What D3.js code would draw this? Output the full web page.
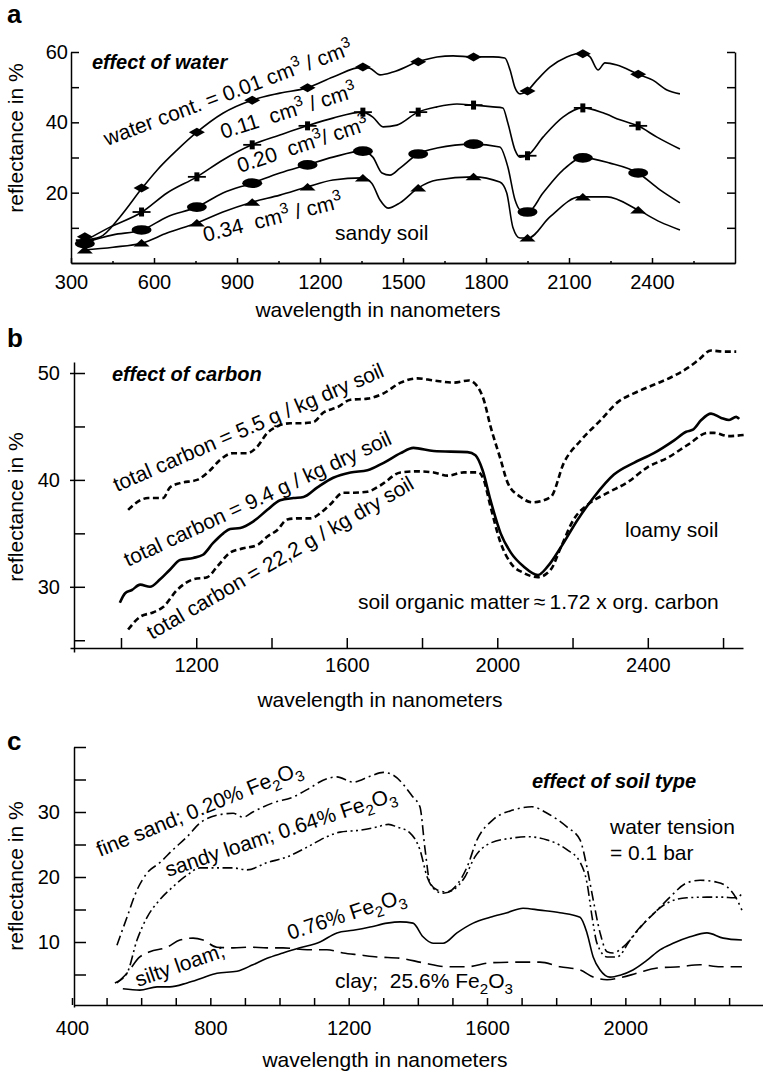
<!DOCTYPE html>
<html lang="en">
<head>
<meta charset="UTF-8">
<title>Soil reflectance spectra</title>
<script src="https://d3js.org/d3.v7.min.js"></script>
<style>
  body { margin: 0; background: #fff; }
  svg { display: block; font-family: "Liberation Sans", Arial, Helvetica, sans-serif; }
  .axis path, .axis line { stroke: #000; stroke-width: 1.5; }
  .axis text { font-size: 20px; fill: #000; font-family: "Liberation Sans", Arial, Helvetica, sans-serif; }
  .curve { fill: none; stroke: #000; stroke-linejoin: round; }
  text { white-space: pre; }
</style>
</head>
<body>
<svg id="chart" width="763" height="1076"></svg>
<script>
// ---- panel a: effect of water (wavelength nm, reflectance %) ----
const water001 = [[343,6.5],[405,7.4],[477,13.1],[557,21.3],[611,26.4],[683,32.1],[755,37.2],[849,42.6],[954,46.3],[1055,48.3],[1153,49.8],[1247,52.9],[1353,55.7],[1380,55.4],[1417,53.5],[1464,54.3],[1554,57.2],[1623,58.6],[1681,58.9],[1753,58.6],[1825,58.6],[1868,58.3],[1887,54.9],[1905,49.8],[1923,48.1],[1948,48.9],[1984,52.0],[2031,55.7],[2092,58.6],[2147,59.7],[2176,58.6],[2205,54.9],[2230,56.9],[2273,56.3],[2349,53.7],[2403,52.0],[2454,49.2],[2501,48.1]];
const water011 = [[343,6.0],[441,10.2],[557,14.5],[647,19.9],[755,24.5],[849,29.3],[954,33.6],[1055,36.4],[1153,39.0],[1247,41.2],[1353,42.9],[1391,41.5],[1428,38.7],[1478,39.2],[1554,42.9],[1623,44.4],[1695,45.2],[1753,44.9],[1825,44.4],[1861,44.1],[1879,39.8],[1905,32.1],[1923,30.1],[1952,30.7],[2006,35.8],[2078,41.5],[2150,44.1],[2223,42.7],[2284,40.7],[2349,39.0],[2418,35.8],[2501,32.4]];
const water020 = [[343,5.7],[452,8.0],[557,9.4],[647,13.1],[755,15.9],[849,19.9],[954,22.7],[1055,25.6],[1153,27.9],[1247,30.1],[1353,31.8],[1391,30.1],[1424,25.6],[1453,25.0],[1489,27.0],[1554,31.0],[1623,32.7],[1753,33.8],[1850,33.0],[1879,27.3],[1905,17.9],[1923,15.1],[1952,14.5],[2006,19.9],[2078,26.4],[2150,29.9],[2248,28.4],[2349,25.6],[2429,20.8],[2501,17.1]];
const water034 = [[343,3.7],[452,4.5],[557,5.7],[647,8.5],[755,11.4],[849,14.5],[954,17.3],[1055,19.3],[1153,21.6],[1247,23.6],[1353,24.2],[1387,22.7],[1417,17.9],[1446,15.6],[1489,17.1],[1554,21.3],[1623,23.6],[1753,24.5],[1850,23.0],[1875,19.9],[1897,10.2],[1923,7.1],[1952,7.1],[2031,13.1],[2139,18.8],[2237,18.8],[2349,15.1],[2429,11.7],[2501,9.4]];
const markerWl = [350,555,755,955,1155,1355,1555,1755,1950,2150,2350];
const markDiamond = [7.5,21.3,37.2,46.3,49.8,55.7,57.2,58.6,48.9,59.5,53.7];
const markCross = [6.5,14.5,24.5,33.6,39.0,42.9,42.9,44.9,30.5,44.1,39.0];
const markEllipse = [5.5,9.4,15.9,22.7,27.9,31.8,31.0,33.8,14.5,29.9,25.6];
const markTriangle = [3.7,5.7,11.4,17.3,21.6,24.2,21.3,24.5,7.1,18.8,15.1];
const ticksA = [300,600,900,1200,1500,1800,2100,2400];
const minorA = [450,750,1050,1350,1650,1950,2250,2550];

// ---- panel b: effect of carbon ----
const carbon55 = [[1019,37.2],[1051,38.1],[1072,38.3],[1112,38.3],[1130,39.3],[1157,39.7],[1202,40.0],[1237,40.9],[1264,41.9],[1298,42.5],[1335,42.5],[1362,43.1],[1389,44.4],[1415,45.0],[1450,45.3],[1477,45.3],[1511,45.4],[1538,46.3],[1575,46.8],[1610,47.5],[1655,47.6],[1698,48.1],[1743,49.1],[1788,49.5],[1831,49.3],[1884,49.1],[1924,49.3],[1948,48.7],[1964,47.5],[1982,45.0],[2009,41.9],[2028,39.7],[2062,38.4],[2094,37.9],[2142,38.4],[2177,41.6],[2222,43.7],[2275,45.6],[2321,47.3],[2363,48.1],[2416,48.9],[2462,49.6],[2507,50.5],[2534,51.2],[2568,52.1],[2603,52.0],[2635,52.0]];
const carbon94 = [[997,28.5],[1011,29.4],[1029,29.7],[1051,30.2],[1077,30.0],[1104,30.7],[1130,31.6],[1157,32.5],[1192,32.7],[1218,33.0],[1245,34.1],[1272,35.0],[1290,35.4],[1317,35.5],[1351,36.1],[1389,37.2],[1423,38.1],[1458,38.3],[1485,38.4],[1522,39.3],[1564,40.2],[1610,40.7],[1655,40.9],[1698,41.6],[1743,42.5],[1777,43.0],[1831,42.7],[1921,42.6],[1942,42.3],[1961,40.9],[1982,38.1],[2009,35.0],[2036,33.2],[2070,31.9],[2108,31.1],[2134,31.9],[2169,33.7],[2214,36.3],[2257,38.4],[2310,40.5],[2363,41.6],[2416,42.5],[2470,43.7],[2502,44.5],[2520,44.7],[2542,45.6],[2568,46.2],[2595,45.8],[2616,45.6],[2635,45.9],[2643,45.7]];
const carbon222 = [[1019,26.0],[1051,27.2],[1085,27.6],[1112,28.1],[1149,29.7],[1192,30.7],[1229,30.9],[1256,31.9],[1290,33.2],[1325,33.6],[1362,33.9],[1389,34.7],[1415,35.3],[1442,36.3],[1469,36.4],[1503,36.4],[1530,36.9],[1556,37.7],[1591,38.8],[1618,38.8],[1655,38.9],[1690,39.5],[1743,40.7],[1788,40.8],[1831,40.7],[1868,40.4],[1911,40.7],[1950,40.7],[1964,40.0],[1982,37.5],[2009,34.1],[2036,32.2],[2070,31.3],[2108,30.9],[2142,31.6],[2169,33.7],[2203,36.3],[2241,37.7],[2294,38.8],[2347,39.8],[2400,41.2],[2454,42.1],[2507,43.3],[2560,44.4],[2576,44.4],[2614,44.1],[2656,44.2]];
const ticksB = [1000,1200,1400,1600,1800,2000,2200,2400,2600];
const labelsB = [1200,1600,2000,2400];

// ---- panel c: effect of soil type ----
const fineSand = [[530,9.5],[559,13.8],[588,18.0],[617,20.6],[654,22.2],[692,24.2],[733,26.2],[770,28.3],[819,29.5],[866,29.8],[895,29.2],[923,30.0],[981,31.4],[1039,32.3],[1088,33.7],[1126,34.9],[1166,35.4],[1213,34.6],[1262,35.5],[1300,36.1],[1328,35.7],[1386,32.3],[1406,30.8],[1421,24.2],[1435,19.1],[1456,18.0],[1484,17.7],[1513,18.8],[1542,21.5],[1571,25.7],[1617,28.8],[1675,30.3],[1730,30.8],[1774,29.8],[1831,27.7],[1869,25.7],[1889,21.5],[1907,16.5],[1927,11.4],[1947,8.5],[1965,8.3],[1993,9.2],[2043,12.3],[2092,14.9],[2129,16.9],[2178,19.1],[2216,19.5],[2265,19.2],[2294,18.5],[2323,16.5],[2337,14.9]];
const sandyLoam = [[524,3.7],[559,5.2],[588,10.3],[617,13.8],[654,16.5],[692,18.5],[733,20.3],[770,21.4],[819,21.4],[866,21.4],[906,21.1],[964,22.2],[1022,23.1],[1080,24.6],[1137,26.2],[1175,26.9],[1233,27.2],[1282,27.7],[1315,28.1],[1340,27.7],[1377,26.8],[1406,24.2],[1427,20.0],[1444,18.3],[1473,17.5],[1502,18.0],[1536,20.0],[1565,23.1],[1609,25.2],[1675,26.0],[1716,26.2],[1774,25.7],[1831,24.2],[1869,22.3],[1889,19.1],[1904,13.8],[1918,9.8],[1947,7.7],[1976,7.7],[2014,10.3],[2063,13.4],[2121,16.0],[2178,16.8],[2236,16.9],[2283,16.9],[2312,16.8],[2326,16.9],[2337,17.5]];
const siltyLoam = [[547,2.8],[596,2.6],[646,3.1],[683,3.1],[733,3.7],[779,4.5],[819,5.2],[877,5.5],[923,6.5],[964,7.5],[1010,8.3],[1059,9.1],[1117,10.0],[1166,11.4],[1213,11.8],[1262,12.3],[1311,12.9],[1349,13.1],[1386,12.9],[1415,10.8],[1444,9.8],[1473,9.8],[1513,11.4],[1560,12.9],[1609,13.8],[1658,14.5],[1704,15.2],[1753,14.9],[1811,14.5],[1869,13.8],[1889,11.4],[1907,7.7],[1927,5.7],[1956,4.6],[1985,4.9],[2022,5.7],[2063,7.2],[2100,8.8],[2138,9.8],[2187,10.8],[2236,11.4],[2283,10.6],[2337,10.3]];
const clay = [[530,3.7],[559,5.2],[596,7.7],[625,8.5],[675,9.2],[712,10.3],[750,10.6],[779,10.3],[819,9.2],[866,9.1],[915,9.2],[964,9.1],[1010,9.1],[1080,8.8],[1137,8.8],[1184,8.3],[1233,8.0],[1282,7.7],[1349,7.5],[1415,6.8],[1484,6.2],[1542,6.2],[1609,6.8],[1675,6.9],[1753,6.9],[1811,6.2],[1869,5.7],[1907,4.6],[1947,4.2],[1985,4.5],[2034,5.2],[2092,6.0],[2158,6.2],[2216,6.5],[2274,6.2],[2337,6.2]];
const ticksC = [400,500,600,700,800,900,1000,1100,1200,1300,1400,1500,1600,1700,1800,1900,2000,2100,2200,2300];
const labelsC = [400,800,1200,1600,2000];

const svg = d3.select("#chart");
const FS = 21;

function curve(g, x, y, data, width, dash) {
    g.append("path")
        .datum(data)
        .attr("class", "curve")
        .attr("stroke-width", width)
        .attr("stroke-dasharray", dash || null)
        .attr("d", d3.line().x(d => x(d[0])).y(d => y(d[1])).curve(d3.curveMonotoneX));
}

// text with sub/superscripts: parts are strings or [text, "sup"|"sub"]
function rich(g, px, py, angle, parts, opts = {}) {
    const size = opts.size || FS;
    const t = g.append("text")
        .attr("transform", `translate(${px},${py}) rotate(${angle})`)
        .attr("font-size", size)
        .attr("font-weight", opts.weight || null)
        .attr("font-style", opts.style || null)
        .attr("text-anchor", opts.anchor || null);
    let cur = 0;
    parts.forEach(p => {
        const [s, kind] = typeof p === "string" ? [p, null] : p;
        const target = kind === "sup" ? -0.4 * size : kind === "sub" ? 0.28 * size : 0;
        const span = t.append("tspan").text(s).attr("dy", target - cur);
        if (kind) span.attr("font-size", size * 0.72);
        cur = target;
    });
    return t;
}

function yTitle(py) {
    rich(svg, 23, py, -90, ["reflectance in %"], {anchor: "middle"});
}

function tidy(g) {
    g.attr("font-family", null).attr("font-size", null);
}

// ================= panel a =================
const ga = svg.append("g");
const xa = d3.scaleLinear().domain([300, 2700]).range([71, 735]);
const ya = d3.scaleLinear().domain([0, 60]).range([263, 52]);

ga.append("g").attr("class", "axis").attr("transform", "translate(0,263)")
    .call(d3.axisBottom(xa).tickValues(ticksA).tickSize(-5).tickSizeOuter(0).tickPadding(12)
        .tickFormat(d3.format("d")))
    .call(tidy)
    .call(g => g.selectAll(".tick line").attr("stroke-width", 2));
ga.append("g").attr("class", "axis").attr("transform", "translate(0,263)")
    .call(d3.axisBottom(xa).tickValues(minorA).tickSize(-2).tickSizeOuter(0).tickFormat(""))
    .call(g => g.selectAll(".tick line").attr("stroke-width", 2.5));
ga.append("g").attr("class", "axis").attr("transform", "translate(71,0)")
    .call(d3.axisLeft(ya).tickValues([10,20,30,40,50,60]).tickSize(-8).tickSizeOuter(0).tickPadding(3)
        .tickFormat(d => d % 20 === 0 ? d : ""))
    .call(tidy);
ga.append("g").attr("class", "axis").attr("transform", "translate(735,0)")
    .call(d3.axisRight(ya).tickValues([10,20,30,40,50,60]).tickSize(-8).tickSizeOuter(0).tickFormat(""));

curve(ga, xa, ya, water001, 1.6);
curve(ga, xa, ya, water011, 1.6);
curve(ga, xa, ya, water020, 1.6);
curve(ga, xa, ya, water034, 1.6);

const mk = (vals, draw) => markerWl.forEach((w, i) => {
    const m = ga.append("g").attr("transform", `translate(${xa(w)},${ya(vals[i])})`);
    draw(m);
});
mk(markDiamond, m => m.append("path").attr("d", "M-8,0L0,-4.5L8,0L0,4.5Z"));
mk(markCross, m => {
    m.append("line").attr("x1", -9).attr("x2", 9).attr("stroke", "#000").attr("stroke-width", 1.8);
    m.append("rect").attr("x", -2.5).attr("y", -4.5).attr("width", 5).attr("height", 9);
});
mk(markEllipse, m => m.append("ellipse").attr("rx", 10).attr("ry", 4.8));
mk(markTriangle, m => m.append("path").attr("d", "M-8,3.5L0,-4L8,3.5Z"));

rich(ga, 7, 23, 0, ["a"], {size: 26, weight: "bold"});
rich(ga, 92, 69, 0, ["effect of water"], {weight: "bold", style: "italic", size: 20});
yTitle(138);
rich(ga, 378, 317, 0, ["wavelength in nanometers"], {anchor: "middle"});
rich(ga, 107, 146, -20.5, ["water cont. = 0.01 cm", ["3", "sup"], " / cm", ["3", "sup"]]);
rich(ga, 223, 139, -17.5, ["0.11  cm", ["3", "sup"], " / cm", ["3", "sup"]]);
rich(ga, 240, 173, -18.5, ["0.20  cm", ["3", "sup"], "/ cm", ["3", "sup"]]);
rich(ga, 205, 242, -14, ["0.34  cm", ["3", "sup"], " / cm", ["3", "sup"]]);
rich(ga, 335, 240, 0, ["sandy soil"]);

// ================= panel b =================
const gb = svg.append("g");
const xb = d3.scaleLinear().domain([864.5, 2653]).range([70, 743]);
const yb = d3.scaleLinear().domain([23.9, 51.03]).range([652, 362]);

gb.append("g").attr("class", "axis").attr("transform", "translate(0,648)")
    .call(d3.axisBottom(xb).tickValues(ticksB).tickSize(-10).tickSizeOuter(0).tickPadding(10)
        .tickFormat(d => labelsB.includes(d) ? d : ""))
    .call(tidy);
gb.append("g").attr("class", "axis").attr("transform", "translate(74,0)")
    .call(d3.axisLeft(yb).tickValues([25,30,35,40,45,50]).tickSize(-11).tickSizeOuter(0).tickPadding(14)
        .tickFormat(d => d % 10 === 0 ? d : ""))
    .call(tidy);
gb.append("g").attr("class", "axis").attr("transform", "translate(74,0)")
    .call(d3.axisLeft(yb).tickValues([30,40,50]).tickSize(4).tickSizeOuter(0).tickFormat(""))
    .call(g => g.select(".domain").remove());

curve(gb, xb, yb, carbon55, 2.6, "6,3.5");
curve(gb, xb, yb, carbon94, 2.6);
curve(gb, xb, yb, carbon222, 2.6, "6,3.5");

rich(gb, 7, 347, 0, ["b"], {size: 26, weight: "bold"});
rich(gb, 112, 381, 0, ["effect of carbon"], {weight: "bold", style: "italic", size: 20});
yTitle(507);
rich(gb, 380, 707, 0, ["wavelength in nanometers"], {anchor: "middle"});
rich(gb, 117, 492, -23.4, ["total carbon = 5.5 g / kg dry soil"]);
rich(gb, 128, 567, -25, ["total carbon = 9.4 g / kg dry soil"]);
rich(gb, 152, 640, -30, ["total carbon = 22,2 g / kg dry soil"]);
rich(gb, 625, 537, 0, ["loamy soil"]);
rich(gb, 358, 609, 0, ["soil organic matter\u2009\u2248\u20091.72 x org. carbon"]);

// ================= panel c =================
const gc = svg.append("g");
const xc = d3.scaleLinear().domain([405.8, 2398]).range([74, 763]);
const yc = d3.scaleLinear().domain([0, 40]).range([1007, 747]);

gc.append("g").attr("class", "axis").attr("transform", "translate(0,1005)")
    .call(d3.axisBottom(xc).tickValues(ticksC).tickSize(-7).tickSizeOuter(0).tickPadding(16)
        .tickFormat(d => labelsC.includes(d) ? d : ""))
    .call(tidy);
gc.append("g").attr("class", "axis").attr("transform", "translate(74,0)")
    .call(d3.axisLeft(yc).tickValues([5,10,15,20,25,30,35,40]).tickSize(-12).tickSizeOuter(0).tickPadding(14)
        .tickFormat(d => d % 10 === 0 && d < 40 ? d : ""))
    .call(tidy);

curve(gc, xc, yc, fineSand, 1.6, "10,4,2,4");
curve(gc, xc, yc, sandyLoam, 1.6, "10,3.5,2,3.5,2,3.5");
curve(gc, xc, yc, siltyLoam, 1.6);
curve(gc, xc, yc, clay, 1.6, "15,7");

rich(gc, 7, 750, 0, ["c"], {size: 26, weight: "bold"});
rich(gc, 532, 788, 0, ["effect of soil type"], {weight: "bold", style: "italic", size: 20});
yTitle(876);
rich(gc, 385, 1067, 0, ["wavelength in nanometers"], {anchor: "middle"});
rich(gc, 100, 857, -22.2, ["fine sand; 0.20% Fe", ["2", "sub"], "O", ["3", "sub"]]);
rich(gc, 168, 877, -18.5, ["sandy loam; 0.64% Fe", ["2", "sub"], "O", ["3", "sub"]]);
rich(gc, 290, 940, -18, ["0.76% Fe", ["2", "sub"], "O", ["3", "sub"]]);
rich(gc, 138, 987, -19.2, ["silty loam;"]);
rich(gc, 335, 988, 0, ["clay;  25.6% Fe", ["2", "sub"], "O", ["3", "sub"]]);
rich(gc, 610, 834, 0, ["water tension"]);
rich(gc, 610, 860, 0, ["= 0.1 bar"]);
</script>
</body>
</html>
